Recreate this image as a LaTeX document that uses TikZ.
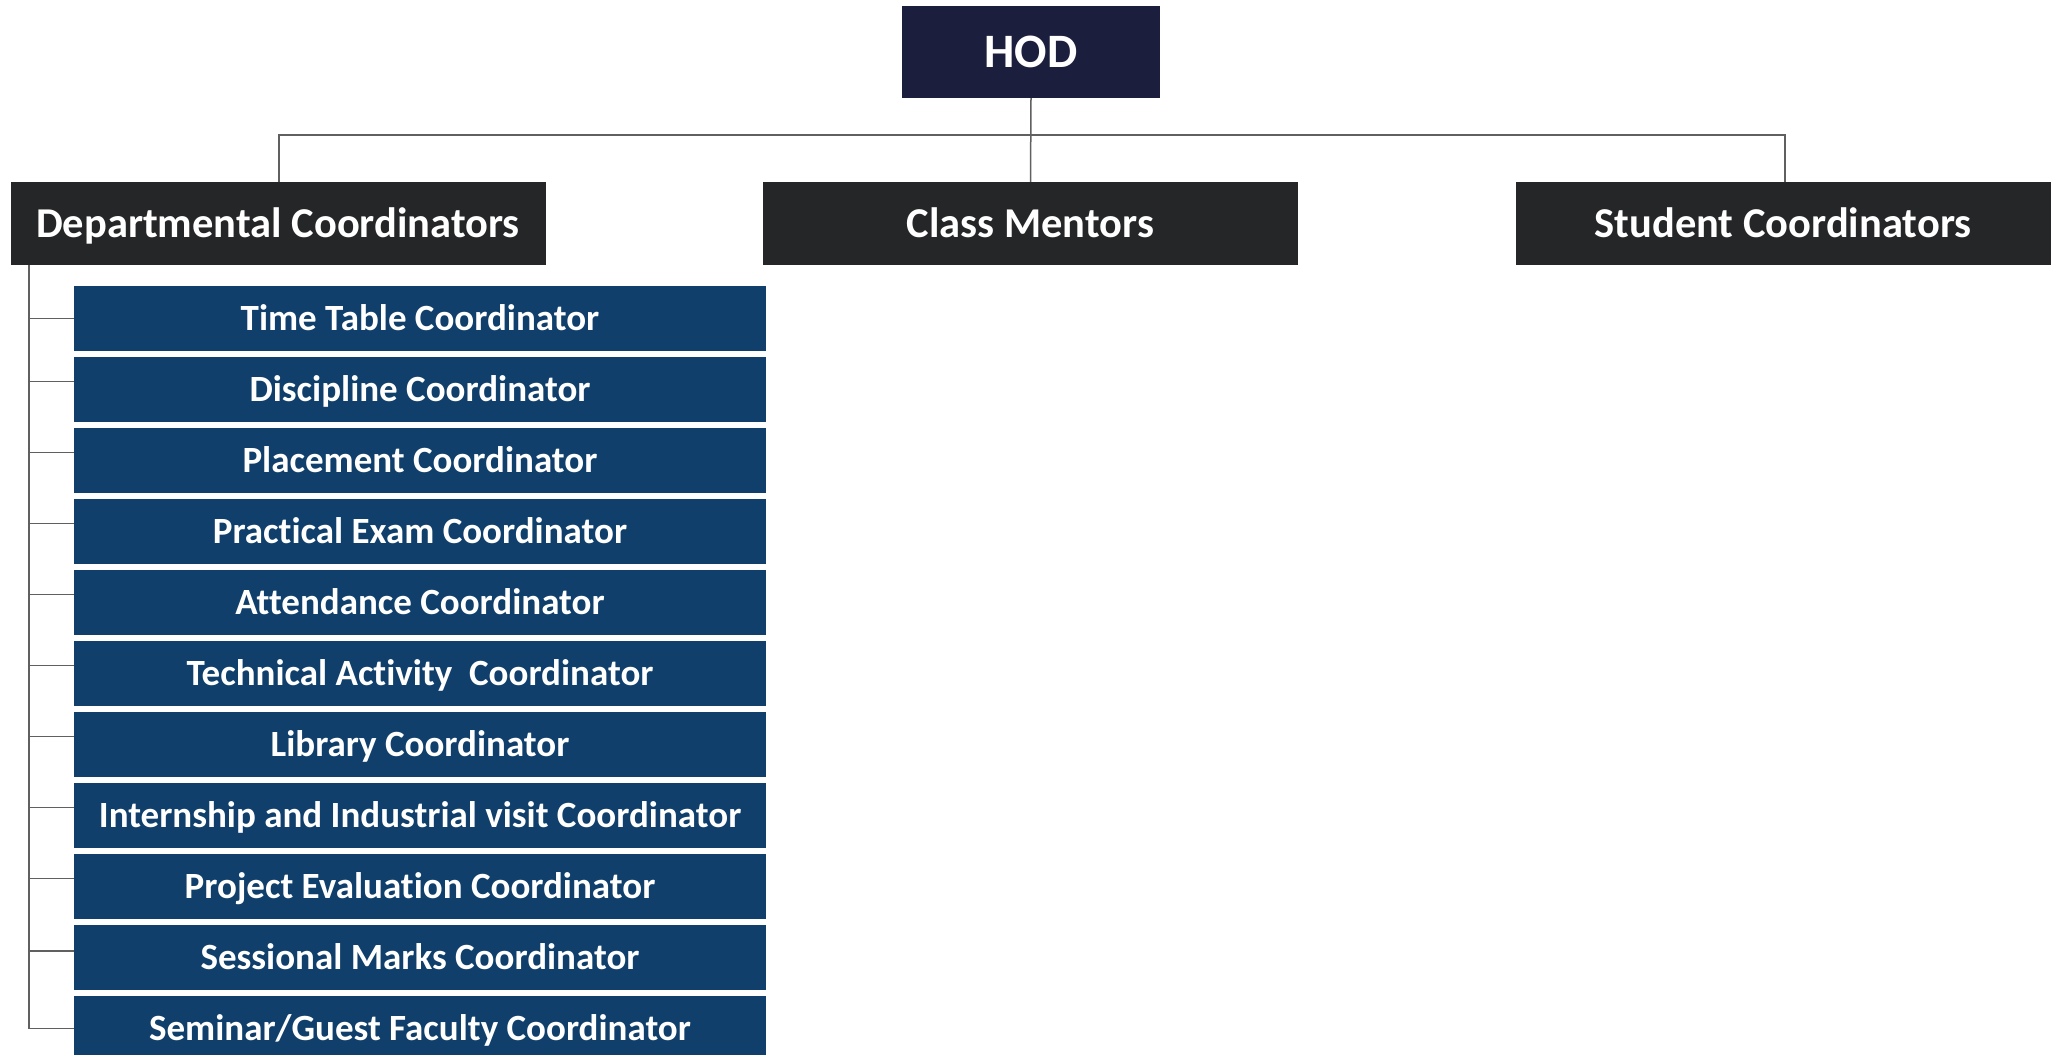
\documentclass[tikz,border=0pt]{standalone}
\usepackage{fontspec}
\setmainfont[Ligatures={NoCommon,NoRequired,NoContextual,NoRare}]{Carlito}
\definecolor{hodfill}{HTML}{1B1E3D}
\definecolor{lvlfill}{HTML}{252628}
\definecolor{bluefill}{HTML}{0F3F6A}
\definecolor{linec}{HTML}{606060}
\begin{document}
\begin{tikzpicture}[x=1pt,y=-1pt,
  hodbox/.style={fill=hodfill,text=white,font=\bfseries\fontsize{48}{52}\selectfont,minimum width=258pt,minimum height=92pt,inner sep=0pt,text height=36pt,text depth=5.1pt},
  lvlbox/.style={fill=lvlfill,text=white,font=\bfseries\fontsize{42.5}{46}\selectfont,minimum width=535pt,minimum height=83pt,inner sep=0pt,text height=31.9pt,text depth=4.5pt},
  subbox/.style={fill=bluefill,text=white,font=\bfseries\fontsize{37}{40}\selectfont,minimum width=692pt,minimum height=65pt,inner sep=0pt,text height=27.75pt,text depth=3.9pt},
  conn/.style={draw=linec,line width=1.5pt}]
\useasboundingbox[fill=white] (0,0) rectangle (2062,1055);
\node[hodbox] (hod) at (1031,52) {HOD};
\node[lvlbox] (dept) at (278,223.5) {Departmental Coordinators};
\node[lvlbox] (class) at (1030.5,223.5) {Class Mentors};
\node[lvlbox] (stud) at (1783,223.5) {Student Coordinators};
\coordinate (bus) at (1031,135);
\draw[conn] (hod.south) -- (class.north);
\draw[conn] (dept.north -| 279,0) |- (bus) -| (1785,182);
\node[subbox] (s1) at (420,318.5) {Time Table Coordinator};
\node[subbox] (s2) at (420,389.5) {Discipline Coordinator};
\node[subbox] (s3) at (420,460.5) {Placement Coordinator};
\node[subbox] (s4) at (420,531.5) {Practical Exam Coordinator};
\node[subbox] (s5) at (420,602.5) {Attendance Coordinator};
\node[subbox] (s6) at (420,673.5) {Technical Activity\ \ Coordinator};
\node[subbox] (s7) at (420,744.5) {Library Coordinator};
\node[subbox] (s8) at (420,815.5) {Internship and Industrial visit Coordinator};
\node[subbox] (s9) at (420,886.5) {Project Evaluation Coordinator};
\node[subbox] (s10) at (420,957.5) {Sessional Marks Coordinator};
\node[subbox] (s11) at (420,1028.5) {Seminar/Guest Faculty Coordinator};
\coordinate (trunktop) at (29,265);
\draw[conn] (trunktop) |- (s11.west);
\draw[conn] (29,0 |- s1.west) -- (s1.west);
\foreach \i in {2,...,9}{
  \draw[conn] ([yshift=8pt]s\i.west -| trunktop) -- ([yshift=8pt]s\i.west);
}
\draw[conn] ([yshift=6.5pt]s10.west -| trunktop) -- ([yshift=6.5pt]s10.west);
\end{tikzpicture}
\end{document}
